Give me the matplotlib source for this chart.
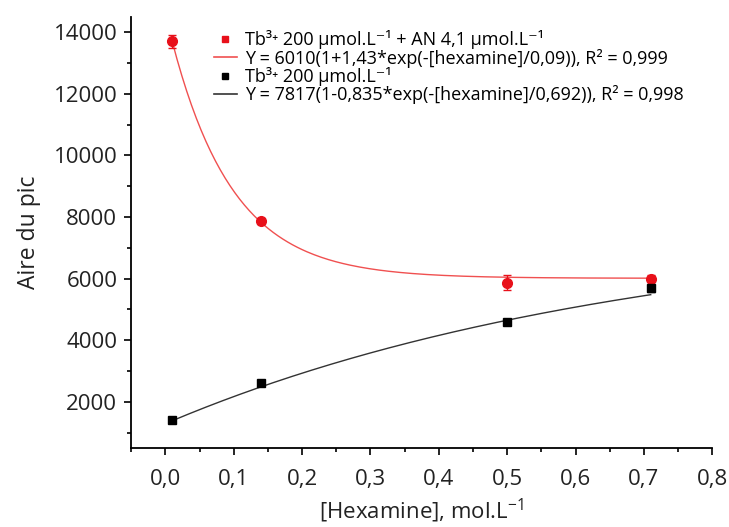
import numpy as np
import matplotlib.pyplot as plt
from matplotlib.ticker import MultipleLocator, FuncFormatter
from matplotlib.lines import Line2D

# measured points
hexa = [0.01, 0.14, 0.50, 0.71]
aire_an = [13700, 7880, 5870, 6000]
err_an = [200, 100, 250, 120]
aire_tb = [1410, 2610, 4580, 5680]
err_tb = [60, 60, 60, 100]

# fit parameters as printed in the legend
fit_an = (6010, 1.43, 0.09)
fit_tb = (7817, 0.835, 0.692)

labels = [
    "Tb³⁺ 200 µmol.L⁻¹ + AN 4,1 µmol.L⁻¹",
    "Y = 6010(1+1,43*exp(-[hexamine]/0,09)), R² = 0,999",
    "Tb³⁺ 200 µmol.L⁻¹",
    "Y = 7817(1-0,835*exp(-[hexamine]/0,692)), R² = 0,998",
]

plt.rcParams['font.family'] = ['Open Sans', 'DejaVu Sans']
plt.rcParams['mathtext.fontset'] = 'custom'
plt.rcParams['mathtext.rm'] = 'Open Sans'

fig = plt.figure(figsize=(7.29, 5.27), dpi=100)
ax = fig.add_axes([0.18, 0.15, 0.797, 0.818])

xs = np.linspace(hexa[0], hexa[-1], 200)
a, b, t = fit_an
ax.plot(xs, a * (1 + b * np.exp(-xs / t)), color='#f05050', lw=1.0)
a, b, t = fit_tb
ax.plot(xs, a * (1 - b * np.exp(-xs / t)), color='#333333', lw=1.0)

ax.errorbar(hexa, aire_an, yerr=err_an, fmt='o', color='#e8101a', ms=7,
            capsize=3, elinewidth=1, zorder=3)
ax.errorbar(hexa, aire_tb, yerr=err_tb, fmt='s', color='black', ms=6,
            capsize=3, elinewidth=1, zorder=3)

ax.set_xlim(-0.05, 0.8)
ax.set_ylim(500, 14500)
ax.xaxis.set_major_locator(MultipleLocator(0.1))
ax.xaxis.set_minor_locator(MultipleLocator(0.05))
ax.yaxis.set_major_locator(MultipleLocator(2000))
ax.yaxis.set_minor_locator(MultipleLocator(1000))
ax.xaxis.set_major_formatter(FuncFormatter(lambda v, p: f"{v:.1f}".replace('.', ',')))
ax.set_yticks([2000, 4000, 6000, 8000, 10000, 12000, 14000])
ax.spines['top'].set_visible(False)
ax.spines['right'].set_visible(False)
ax.tick_params(which='major', length=5, width=1.2, labelsize=16, color='black',
               labelcolor='#222222')
ax.tick_params(axis='x', which='major', pad=10)
ax.tick_params(axis='y', which='major', pad=5)
ax.tick_params(which='minor', length=3, width=1.2)
ax.spines['left'].set_linewidth(1.3)
ax.spines['bottom'].set_linewidth(1.3)

ax.set_xlabel(r"[Hexamine], mol.L$^{-1}$", fontsize=16, color='#222222', labelpad=5)
ax.set_ylabel("Aire du pic", fontsize=16.5, color='#222222', labelpad=9)

handles = [
    Line2D([], [], marker='s', ls='none', color='#e8101a', ms=5),
    Line2D([], [], color='#f05050', lw=1.2),
    Line2D([], [], marker='s', ls='none', color='black', ms=5),
    Line2D([], [], color='#333333', lw=1.2),
]
ax.legend(handles, labels, loc='upper left', bbox_to_anchor=(0.12, 0.998),
          frameon=False, handlelength=1.3, labelspacing=-0.04,
          handletextpad=0.45, borderpad=0.2,
          prop={'family': ['Open Sans', 'DejaVu Sans'], 'size': 13})

fig.savefig('out.png', dpi=100)
